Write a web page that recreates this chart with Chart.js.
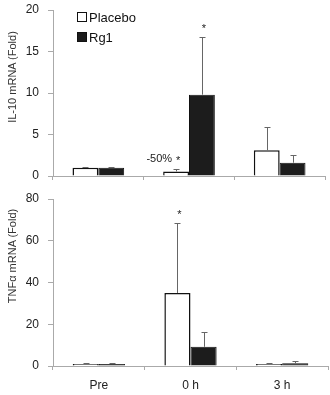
<!DOCTYPE html>
<html>
<head>
<meta charset="utf-8">
<script src="https://cdn.jsdelivr.net/npm/chart.js@4.4.1/dist/chart.umd.min.js"></script>
<style>
  html, body { margin: 0; padding: 0; background: #fff; }
  #wrap { position: relative; width: 330px; height: 395px; overflow: hidden;
          font-family: "Liberation Sans", Arial, sans-serif; }
  canvas { position: absolute; left: 0; }
  #il10 { top: 0; }
  #tnf  { top: 190px; }
  .leg { position: absolute; left: 77px; height: 14px; display: flex; align-items: center;
         font-size: 13px; color: #111; }
  .leg span { display: inline-block; width: 8px; height: 8px; border: 1px solid #111;
              margin-right: 2px; background: #fff; }
  .leg.dark span { background: #1c1c1c; }
  .ytitle { position: absolute; left: 12px; width: 0; height: 0; }
  .ytitle div { position: absolute; left: 0; top: 0; white-space: nowrap; font-size: 11px;
                color: #333; transform: translate(-50%, -50%) rotate(-90deg); }
</style>
</head>
<body>
<div id="wrap">
  <canvas id="il10" width="330" height="190"></canvas>
  <canvas id="tnf" width="330" height="205"></canvas>
  <div class="ytitle" style="top:77px"><div>IL-10 mRNA (Fold)</div></div>
  <div class="ytitle" style="top:256px"><div>TNFα mRNA (Fold)</div></div>
  <div class="leg" style="top:10px"><span></span>Placebo</div>
  <div class="leg dark" style="top:30px"><span></span>Rg1</div>
</div>
<script>
// ── Data ───────────────────────────────────────────────────────────────────
const CATEGORIES = ['Pre', '0 h', '3 h'];
const SERIES = ['Placebo', 'Rg1'];

const IL10_PLACEBO     = [1.0, 0.55, 3.1];
const IL10_PLACEBO_ERR = [0.05, 0.25, 2.8];
const IL10_RG1         = [1.0, 9.8, 1.6];
const IL10_RG1_ERR     = [0.05, 7.0, 0.9];

const TNF_PLACEBO      = [1.0, 35, 1.0];
const TNF_PLACEBO_ERR  = [0.2, 33.5, 0.6];
const TNF_RG1          = [1.0, 9.2, 1.3];
const TNF_RG1_ERR      = [0.2, 7.0, 1.2];

const IL10_TICKS = [0, 5, 10, 15, 20];
const TNF_TICKS  = [0, 20, 40, 60, 80];

// significance marks: [dataset, category, star, note]
const IL10_MARKS = [[0, 1, '*', '-50%'], [1, 1, '*', '']];
const TNF_MARKS  = [[0, 1, '*', '']];

// ── Style ──────────────────────────────────────────────────────────────────
const FONT = '"Liberation Sans", Arial, sans-serif';
const AXIS = '#aaa';
const TEXT = '#222';

Chart.defaults.font.family = FONT;

const errorBars = {
  id: 'errorBars',
  afterDatasetsDraw(chart, args, opts) {
    const ctx = chart.ctx;
    const y = chart.scales.y;
    ctx.save();
    ctx.strokeStyle = '#666';
    ctx.lineWidth = 1;
    chart.data.datasets.forEach((ds, di) => {
      chart.getDatasetMeta(di).data.forEach((bar, i) => {
        const top = Math.round(y.getPixelForValue(ds.data[i] + ds.errors[i])) + 0.5;
        const x = Math.round(bar.x) + 0.5;
        ctx.beginPath();
        ctx.moveTo(x, bar.y);
        ctx.lineTo(x, top);
        ctx.moveTo(x - 3, top);
        ctx.lineTo(x + 3, top);
        ctx.stroke();
      });
    });
    ctx.fillStyle = TEXT;
    ctx.textBaseline = 'middle';
    (opts.marks || []).forEach(([di, i, star, note]) => {
      const ds = chart.data.datasets[di];
      const bar = chart.getDatasetMeta(di).data[i];
      const top = y.getPixelForValue(ds.data[i] + ds.errors[i]);
      ctx.font = '11px ' + FONT;
      ctx.textAlign = 'center';
      ctx.fillText(star, bar.x + 2, top - 8);
      if (note) {
        ctx.textAlign = 'right';
        ctx.fillText(note, bar.x - 4, top - 10);
      }
    });
    ctx.restore();
  }
};

function makeChart(id, placebo, placeboErr, rg1, rg1Err, ticks, marks, opts) {
  return new Chart(document.getElementById(id), {
    type: 'bar',
    data: {
      labels: CATEGORIES,
      datasets: [
        { label: SERIES[0], data: placebo, errors: placeboErr,
          backgroundColor: '#fff', borderColor: '#111', borderWidth: 1.5,
          categoryPercentage: 0.57, barPercentage: 1.0 },
        { label: SERIES[1], data: rg1, errors: rg1Err,
          backgroundColor: '#1c1c1c', borderColor: '#111', borderWidth: 1,
          categoryPercentage: 0.57, barPercentage: 1.0 }
      ]
    },
    options: {
      responsive: false,
      animation: false,
      layout: { padding: { top: opts.top, right: opts.right, left: 0, bottom: 0 } },
      plugins: {
        legend: { display: false },
        tooltip: { enabled: false },
        errorBars: { marks: marks }
      },
      scales: {
        x: {
          ticks: { display: opts.labels, color: TEXT, font: { size: 12 }, padding: 8 },
          grid: { drawOnChartArea: false, tickLength: 4, color: AXIS, offset: true },
          border: { color: AXIS },
          afterFit(s) { s.height = opts.xh; s.paddingLeft = 0; s.paddingRight = 0; }
        },
        y: {
          min: ticks[0],
          max: ticks[ticks.length - 1],
          ticks: { stepSize: ticks[1] - ticks[0], color: TEXT, font: { size: 12 }, padding: 9 },
          grid: { drawOnChartArea: false, tickLength: 5, color: AXIS },
          border: { color: AXIS },
          afterFit(s) { s.width = 53; s.paddingTop = 0; s.paddingBottom = 0; }
        }
      }
    },
    plugins: [errorBars]
  });
}

// ── Init ───────────────────────────────────────────────────────────────────
makeChart('il10', IL10_PLACEBO, IL10_PLACEBO_ERR, IL10_RG1, IL10_RG1_ERR, IL10_TICKS,
          IL10_MARKS, { top: 10, right: 5, xh: 14, labels: false });
makeChart('tnf', TNF_PLACEBO, TNF_PLACEBO_ERR, TNF_RG1, TNF_RG1_ERR, TNF_TICKS,
          TNF_MARKS, { top: 9, right: 2, xh: 29, labels: true });
</script>
</body>
</html>
